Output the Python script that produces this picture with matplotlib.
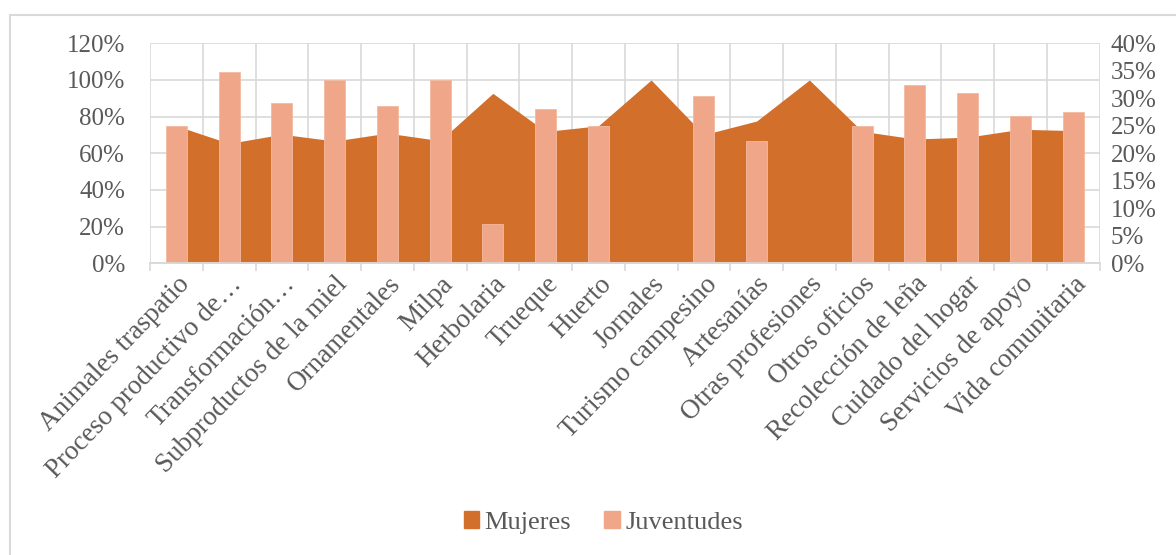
import matplotlib.pyplot as plt
import numpy as np
from matplotlib.patches import Patch
from matplotlib.lines import Line2D
from matplotlib.ticker import FuncFormatter, MultipleLocator

categorias = ["Animales traspatio", "Proceso productivo de…", "Transformación…",
              "Subproductos de la miel", "Ornamentales", "Milpa", "Herbolaria",
              "Trueque", "Huerto", "Jornales", "Turismo campesino", "Artesanías",
              "Otras profesiones", "Otros oficios", "Recolección de leña",
              "Cuidado del hogar", "Servicios de apoyo", "Vida comunitaria"]
mujeres = [75, 65.4, 70.4, 66.7, 71, 66.9, 92.7, 71.9, 75, 100,
           70.2, 77.6, 100, 72, 67.8, 68.8, 73.1, 72.4]
juventudes = [25, 34.7, 29.2, 33.3, 28.6, 33.3, 7.1, 28.0, 25, 0,
              30.4, 22.2, 0, 25, 32.4, 31.0, 26.7, 27.5]

c_muj = '#D26F2B'
c_juv = '#F0A688'
gris = '#595959'
linea = '#D9D9D9'

plt.rcParams['font.family'] = ['Liberation Serif', 'DejaVu Serif']

fig = plt.figure(figsize=(11.76, 5.55), dpi=100)
ax = fig.add_axes([150/1176, 1-263.3/555, 949.5/1176, 220/555])
ax2 = ax.twinx()

x = np.arange(1, len(categorias)+1)
ax.fill_between(x, 0, mujeres, color=c_muj, lw=0, zorder=2)
ax2.bar(x, juventudes, width=0.4, color=c_juv, edgecolor='#F4B9A0', lw=0.6)

ax.set_xlim(0.5, len(categorias)+0.5)
ax.set_ylim(0, 120)
ax2.set_ylim(0, 40)

ax.yaxis.set_major_locator(MultipleLocator(20))
ax2.yaxis.set_major_locator(MultipleLocator(5))
pct = FuncFormatter(lambda v, p: '%d%%' % v)
ax.yaxis.set_major_formatter(pct)
ax2.yaxis.set_major_formatter(pct)

ax.set_axisbelow(True)
ax.grid(axis='y', color=linea, lw=1.2, zorder=0)
ax.set_xticks(np.arange(0.5, len(categorias)+1, 1), minor=True)
ax.grid(axis='x', which='minor', color=linea, lw=1.2, zorder=0)

ax.set_xticks(x)
ax.set_xticklabels(categorias, rotation=46, ha='right', va='top',
                   rotation_mode='anchor', fontsize=19.5, color=gris)
ax.tick_params(axis='x', which='major', length=0, pad=6)
ax.tick_params(axis='x', which='minor', length=5.5, color=linea, width=1.2)
ax.tick_params(axis='y', length=0, pad=18, labelsize=18, labelcolor=gris)
ax2.tick_params(axis='y', length=0, pad=8, labelsize=18, labelcolor=gris)

for a in (ax, ax2):
    for s in ['top', 'left', 'right']:
        a.spines[s].set_visible(False)
    a.spines['bottom'].set_color(linea)
    a.spines['bottom'].set_linewidth(1.2)

# borde del grafico
fig.add_artist(Line2D([10/1176, 10/1176], [0, 1-15/555], color=linea, lw=1.5))
fig.add_artist(Line2D([10/1176, 1], [1-15/555, 1-15/555], color=linea, lw=1.5))

handles = [Patch(color=c_muj, label='Mujeres'), Patch(color=c_juv, label='Juventudes')]
fig.legend(handles=handles, loc='center', bbox_to_anchor=(0.513, 0.058), ncol=2,
           frameon=False, fontsize=19, handlelength=0.6, handleheight=0.6,
           handletextpad=0.2, columnspacing=1.25, labelcolor=gris)

fig.savefig('out.png', dpi=100)
